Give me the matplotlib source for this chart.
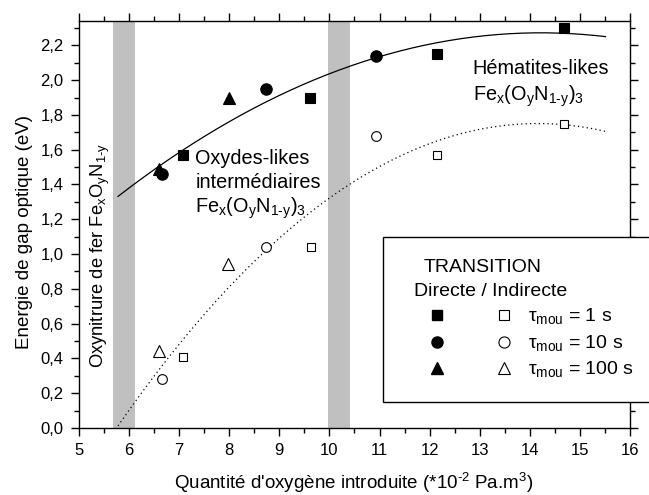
import numpy as np
import matplotlib
matplotlib.use("Agg")
import matplotlib.pyplot as plt
from matplotlib.patches import Rectangle
from matplotlib.ticker import MultipleLocator, FuncFormatter

plt.rcParams["font.family"] = ["Liberation Sans", "DejaVu Sans"]
plt.rcParams["mathtext.fontset"] = "custom"
plt.rcParams["mathtext.rm"] = "Liberation Sans"
plt.rcParams["mathtext.it"] = "Liberation Sans"

# direct transition (filled markers)
x_dir_1s = [7.08, 9.62, 12.15, 14.69]
y_dir_1s = [1.57, 1.90, 2.15, 2.30]
x_dir_10s = [6.66, 8.73, 10.92]
y_dir_10s = [1.46, 1.95, 2.14]
x_dir_100s = [6.60, 7.99]
y_dir_100s = [1.49, 1.90]

# indirect transition (open markers)
x_ind_1s = [7.08, 9.63, 12.14, 14.69]
y_ind_1s = [0.41, 1.04, 1.57, 1.75]
x_ind_10s = [6.66, 8.73, 10.92]
y_ind_10s = [0.28, 1.04, 1.68]
x_ind_100s = [6.60, 7.98]
y_ind_100s = [0.44, 0.945]

# grey transition zones
bands = [(5.67, 6.12), (9.97, 10.41)]
# range of the fitted curves
fit_range = (5.78, 15.51)

HY = "\u2010"  # short hyphen for 1-y and 10^-2
FORMULA = "Fe$_{x}$(O$_{y}$N$_{1" + HY + "y}$)$_{3}$"

fig = plt.figure(figsize=(6.49, 4.95), dpi=100)
ax = fig.add_axes([0.1217, 0.1354, 0.8490, 0.8222])

for x0, x1 in bands:
    ax.axvspan(x0, x1, color="#c0c0c0", lw=0, zorder=0)

# 2nd order polynomial fits of both series
xd = np.array(x_dir_1s + x_dir_10s + x_dir_100s)
yd = np.array(y_dir_1s + y_dir_10s + y_dir_100s)
xi = np.array(x_ind_1s + x_ind_10s + x_ind_100s)
yi = np.array(y_ind_1s + y_ind_10s + y_ind_100s)

xs = np.linspace(fit_range[0], fit_range[1], 200)
ax.plot(xs, np.polyval(np.polyfit(xd, yd, 2), xs), color="black", lw=0.9)
ax.plot(xs, np.polyval(np.polyfit(xi, yi, 2), xs), color="black", lw=0.9, ls=(0, (1, 2.5)))

fs_kw = dict(color="black", markeredgecolor="black", ls="none", markeredgewidth=0.8)
ax.plot(x_dir_1s, y_dir_1s, marker="s", ms=6.7, **fs_kw)
ax.plot(x_dir_10s, y_dir_10s, marker="o", ms=8.2, **fs_kw)
ax.plot(x_dir_100s, y_dir_100s, marker="^", ms=8.5, **fs_kw)
op_kw = dict(markerfacecolor="white", markeredgecolor="black", ls="none", markeredgewidth=0.8)
ax.plot(x_ind_1s, y_ind_1s, marker="s", ms=5.8, **op_kw)
ax.plot(x_ind_10s, y_ind_10s, marker="o", ms=7, **op_kw)
ax.plot(x_ind_100s, y_ind_100s, marker="^", ms=8, **op_kw)

ax.set_xlim(5, 16)
ax.set_ylim(0, 2.34)
ax.xaxis.set_major_locator(MultipleLocator(1))
ax.xaxis.set_minor_locator(MultipleLocator(0.5))
ax.yaxis.set_major_locator(MultipleLocator(0.2))
ax.yaxis.set_minor_locator(MultipleLocator(0.1))
ax.yaxis.set_major_formatter(FuncFormatter(lambda v, p: ("%.1f" % v).replace(".", ",")))
ax.tick_params(which="both", direction="out", top=True, right=True, labelsize=12, width=1)
ax.tick_params(which="major", length=6, pad=5)
ax.tick_params(which="minor", length=3.5)
for s in ax.spines.values():
    s.set_linewidth(1)

ax.set_xlabel("Quantité d'oxygène introduite (*10$^{" + HY + "2}$ Pa.m$^{3}$)", fontsize=13.5)
ax.set_ylabel("Energie de gap optique (eV)", fontsize=13.5)
ax.xaxis.set_label_coords(0.499, -0.106)
ax.yaxis.set_label_coords(-0.083, 0.482)

ax.text(5.42, 0.99, "Oxynitrure de fer Fe$_{x}$O$_{y}$N$_{1" + HY + "y}$", rotation=90,
        fontsize=13.2, ha="center", va="center")
ax.text(7.32, 1.515, "Oxydes-likes", fontsize=14.3, ha="left", va="baseline")
ax.text(7.32, 1.377, "intermédiaires", fontsize=14.3, ha="left", va="baseline")
ax.text(7.32, 1.238, FORMULA, fontsize=14.3, ha="left", va="baseline")
ax.text(12.86, 2.033, "Hématites-likes", fontsize=14.3, ha="left", va="baseline")
ax.text(12.86, 1.88, FORMULA, fontsize=14.3, ha="left", va="baseline")

# legend box drawn by hand, it runs over the right spine
box = Rectangle((383 / 649, 1 - 402 / 495), 280 / 649, 165 / 495, transform=fig.transFigure,
                facecolor="white", edgecolor="black", lw=1, zorder=5, clip_on=False)
fig.patches.append(box)
fig.text(483 / 649, 1 - 267 / 495, "TRANSITION", fontsize=14, ha="center", va="center", zorder=6)
fig.text(491 / 649, 1 - 291 / 495, "Directe / Indirecte", fontsize=14, ha="center", va="center", zorder=6)
rows = [("s", "1 s"), ("o", "10 s"), ("^", "100 s")]
for i, (m, lab) in enumerate(rows):
    yy = 1 - (315 + i * 26.7) / 495
    fig.add_artist(plt.Line2D([437 / 649], [yy], marker=m, ms=8 if m != "s" else 7, color="black",
                              transform=fig.transFigure, zorder=6))
    fig.add_artist(plt.Line2D([504 / 649], [yy], marker=m, ms=8 if m != "s" else 7, markerfacecolor="white",
                              markeredgecolor="black", markeredgewidth=0.8, transform=fig.transFigure, zorder=6))
    fig.text(528 / 649, 1 - (315 + i * 26.7 + 6) / 495, r"$\tau_{\mathrm{mou}}$ = " + lab, fontsize=14,
             ha="left", va="baseline", zorder=6)

fig.savefig("out.png", dpi=100)
